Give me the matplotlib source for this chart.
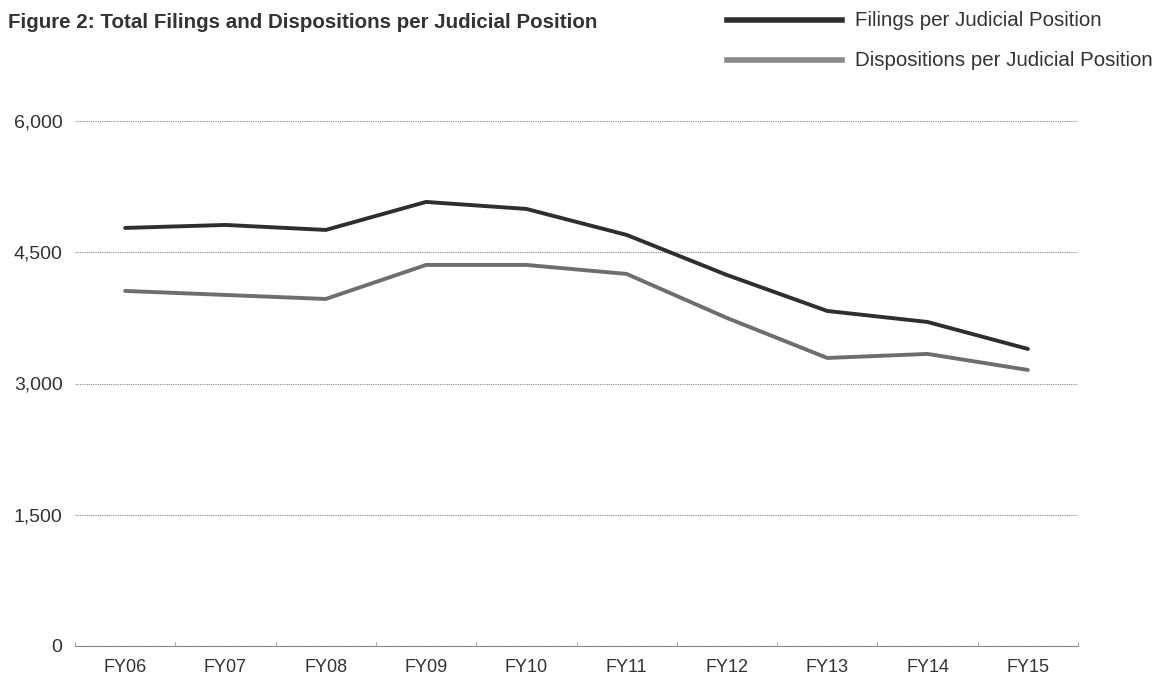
import matplotlib
matplotlib.use("Agg")
from matplotlib import pyplot as plt
from matplotlib.ticker import FuncFormatter, FixedLocator
from matplotlib.lines import Line2D

plt.rcParams['font.family'] = ['Liberation Sans', 'DejaVu Sans']

years = ["FY06", "FY07", "FY08", "FY09", "FY10", "FY11", "FY12", "FY13", "FY14", "FY15"]
filings = [4778, 4812, 4755, 5075, 4995, 4698, 4240, 3829, 3703, 3395]
dispositions = [4058, 4012, 3966, 4355, 4355, 4252, 3749, 3292, 3338, 3155]
y_ticks = [0, 1500, 3000, 4500, 6000]

fig = plt.figure(figsize=(11.76, 6.81), dpi=100)
ax = fig.add_axes([75 / 1176, 35 / 681, 1003 / 1176, 525 / 681])

x = list(range(len(years)))
ax.plot(x, filings, color="#2e2e2e", lw=2.8, solid_capstyle="round")
ax.plot(x, dispositions, color="#6e6e6e", lw=2.8, solid_capstyle="round")

ax.set_xlim(-0.5, len(years) - 0.5)
ax.set_ylim(0, 6000)
ax.set_yticks(y_ticks)
ax.yaxis.set_major_formatter(FuncFormatter(lambda v, p: f"{int(v):,}"))
ax.grid(axis="y", color="#888888", lw=0.8, ls=(0, (1, 1)))
ax.set_axisbelow(True)

ax.set_xticks(x)
ax.set_xticklabels(years)
ax.xaxis.set_minor_locator(FixedLocator([i + 0.5 for i in range(-1, len(years))]))
ax.tick_params(axis="x", which="major", length=0, pad=9, labelsize=13, colors="#333333")
ax.tick_params(axis="x", which="minor", length=3, color="#999999", direction="in")
ax.tick_params(axis="y", length=0, pad=9, labelsize=14, colors="#333333")

for s in ["top", "right", "left"]:
    ax.spines[s].set_visible(False)
ax.spines["bottom"].set_color("#888888")
ax.spines["bottom"].set_linewidth(0.8)

fig.text(8 / 1176, 1 - 22 / 681, "Figure 2: Total Filings and Dispositions per Judicial Position",
         fontsize=14.8, fontweight="bold", color="#333333", va="center", ha="left")

# legend drawn by hand in the top right corner
fig.add_artist(Line2D([727 / 1176, 842 / 1176], [1 - 20 / 681, 1 - 20 / 681],
                      color="#2e2e2e", lw=4, transform=fig.transFigure))
fig.add_artist(Line2D([727 / 1176, 842 / 1176], [1 - 60 / 681, 1 - 60 / 681],
                      color="#8a8a8a", lw=4, transform=fig.transFigure))
fig.text(855 / 1176, 1 - 20 / 681, "Filings per Judicial Position",
         fontsize=14.8, color="#333333", va="center", ha="left")
fig.text(855 / 1176, 1 - 60 / 681, "Dispositions per Judicial Position",
         fontsize=14.8, color="#333333", va="center", ha="left")

fig.savefig("out.png", dpi=100)
